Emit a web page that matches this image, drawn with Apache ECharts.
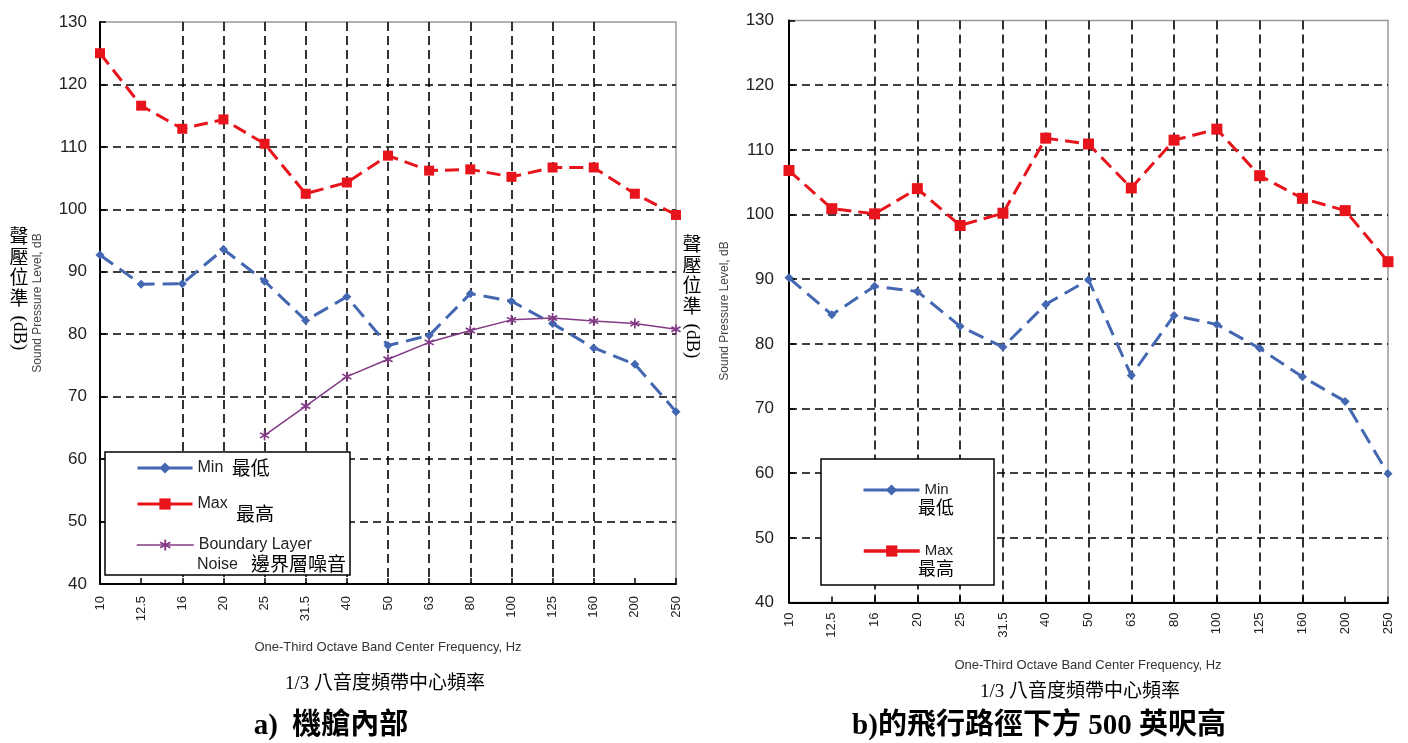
<!DOCTYPE html>
<html><head><meta charset="utf-8">
<script src="https://cdn.jsdelivr.net/npm/echarts@6/dist/echarts.min.js"></script>
<style>html,body{margin:0;padding:0;background:#fff}#c{width:1408px;height:743px}</style>
</head><body><div id="c"></div>
<script>
const categories = ['10','12.5','16','20','25','31.5','40','50','63','80','100','125','160','200','250'];
const yTicks = [40,50,60,70,80,90,100,110,120,130];
// a) cabin interior
const cabinMin = [92.7, 88.0, 88.1, 93.6, 88.5, 82.2, 86.0, 78.2, 79.8, 86.5, 85.3, 81.7, 77.8, 75.2, 67.6];
const cabinMax = [125.0, 116.6, 112.9, 114.4, 110.5, 102.5, 104.3, 108.6, 106.2, 106.4, 105.2, 106.7, 106.7, 102.5, 99.1];
const cabinBL  = [null, null, null, null, 63.8, 68.5, 73.2, 76.0, 78.7, 80.6, 82.3, 82.6, 82.1, 81.7, 80.8];
// b) 500 ft below flight path
const flightMin = [90.2, 84.5, 88.9, 88.1, 82.7, 79.5, 86.1, 89.9, 75.1, 84.4, 83.0, 79.3, 74.9, 71.1, 59.9];
const flightMax = [106.8, 100.9, 100.1, 104.0, 98.3, 100.2, 111.8, 110.9, 104.1, 111.5, 113.2, 106.0, 102.5, 100.6, 92.7];

const RED = '#e8141c', BLUE = '#4467b1', PURPLE = '#833a86';
const SANS = 'Liberation Sans, Arial, sans-serif';
const CJK = '"Liberation Serif", "Noto Sans CJK TC", serif';
const STAR = 'path://M-0.8,-5L0.8,-5L0.8,5L-0.8,5Z M-4.73,-1.81L-3.93,-3.19L4.73,1.81L3.93,3.19Z M3.93,-3.19L4.73,-1.81L-3.93,3.19L-4.73,1.81Z';

const yMin = yTicks[0], yMax = yTicks[yTicks.length - 1], yStep = yTicks[1] - yTicks[0];

function xAxisCfg(gi, margin) {
  return {
    type: 'category', gridIndex: gi, data: categories, boundaryGap: false,
    axisLine: { show: true, lineStyle: { color: '#000', width: 2 } },
    axisTick: { show: true, inside: true, length: 6, lineStyle: { color: '#000', width: 1.5 } },
    axisLabel: { rotate: 90, interval: 0, margin: margin, fontFamily: SANS, fontSize: 13, color: '#222' },
    splitLine: { show: true, showMinLine: false, showMaxLine: false,
      interval: (i) => i !== 0 && i !== categories.length - 1,
      lineStyle: { color: '#000', width: 1.6, type: [9, 5] } }
  };
}
function yAxisCfg(gi, margin) {
  return {
    type: 'value', gridIndex: gi, min: yMin, max: yMax, interval: yStep,
    axisLine: { show: true, lineStyle: { color: '#000', width: 2 } },
    axisTick: { show: true, inside: true, length: 6, lineStyle: { color: '#000', width: 1.5 } },
    axisLabel: { margin: margin, fontFamily: SANS, fontSize: 17, color: '#222' },
    splitLine: { show: true, showMinLine: false, showMaxLine: false,
      lineStyle: { color: '#000', width: 1.6, type: [8, 5] } }
  };
}
function minSeries(name, gi, data) {
  return { name, type: 'line', xAxisIndex: gi, yAxisIndex: gi, data, symbol: 'diamond', symbolSize: 9,
    lineStyle: { color: BLUE, width: 3, type: [16, 8] }, itemStyle: { color: BLUE }, z: 3 };
}
function maxSeries(name, gi, data, size) {
  return { name, type: 'line', xAxisIndex: gi, yAxisIndex: gi, data, symbol: 'rect', symbolSize: size,
    lineStyle: { color: RED, width: 3, type: [14, 7] }, itemStyle: { color: RED }, z: 4 };
}

function legendCfg(name, left, top, itemWidth, text, fontSize, lineWidth, rich) {
  return { data: [name], left, top, orient: 'vertical', padding: 0, itemWidth, itemHeight: 14,
    selectedMode: false, formatter: () => text,
    lineStyle: { type: 'solid', width: lineWidth },
    textStyle: { fontFamily: SANS, fontSize: fontSize, color: '#222', lineHeight: 20, rich: rich || {} } };
}

const cjkText = (text, x, y, size, extra) => Object.assign({
  type: 'text', x, y, z: 10,
  style: Object.assign({ text, font: size + 'px ' + CJK, fill: '#000', align: 'left', verticalAlign: 'middle' }, extra || {})
});

const option = {
  animation: false,
  backgroundColor: '#fff',
  grid: [
    { left: 100, top: 22, width: 576, height: 562, show: true, borderColor: '#999', borderWidth: 1.5, backgroundColor: 'transparent' },
    { left: 789, top: 20.5, width: 599, height: 582, show: true, borderColor: '#999', borderWidth: 1.5, backgroundColor: 'transparent' }
  ],
  xAxis: [xAxisCfg(0, 12), xAxisCfg(1, 10)],
  yAxis: [yAxisCfg(0, 13), yAxisCfg(1, 15)],
  legend: [
    legendCfg('aMin', 136, 456, 55, '{en|Min} {cn|最低}', 16, 3, {
      en: { fontFamily: SANS, fontSize: 16, color: '#222', lineHeight: 20 },
      cn: { fontFamily: CJK, fontSize: 19, color: '#000', lineHeight: 20, padding: [5, 0, 0, 4] } }),
    legendCfg('aMax', 136, 494, 55, 'Max', 16, 3),
    legendCfg('aBL', 136, 535, 57, 'Boundary Layer', 16, 1.5),
    legendCfg('bMin', 862, 480, 56, 'Min', 15, 3),
    legendCfg('bMax', 862, 541, 56, 'Max', 15, 3.5)
  ],
  series: [
    minSeries('aMin', 0, cabinMin),
    maxSeries('aMax', 0, cabinMax, 10),
    { name: 'aBL', type: 'line', xAxisIndex: 0, yAxisIndex: 0, data: cabinBL, symbol: STAR, symbolSize: 10,
      lineStyle: { color: PURPLE, width: 1.5 }, itemStyle: { color: PURPLE }, z: 3 },
    minSeries('bMin', 1, flightMin),
    maxSeries('bMax', 1, flightMax, 11)
  ],
  graphic: [
    { type: 'rect', z: 3, shape: { x: 105, y: 452, width: 245, height: 123 }, style: { fill: '#fff', stroke: '#000', lineWidth: 1.5 } },
    { type: 'rect', z: 3, shape: { x: 821, y: 459, width: 173, height: 126 }, style: { fill: '#fff', stroke: '#000', lineWidth: 1.5 } },
    cjkText('最高', 236, 516, 19),
    { type: 'text', x: 197, y: 565, z: 10, style: { text: 'Noise', font: '16px ' + SANS, fill: '#222', verticalAlign: 'middle' } },
    cjkText('邊界層噪音', 251, 566, 19),
    cjkText('最低', 918, 509, 18),
    cjkText('最高', 918, 570, 18),
    // vertical Chinese y titles
    cjkText('聲\n壓\n位\n準', 19, 228, 19, { align: 'center', verticalAlign: 'top', lineHeight: 20.5 }),
    cjkText('(dB)', 19, 333, 19, { align: 'center' }),
    cjkText('聲\n壓\n位\n準', 692, 236, 19, { align: 'center', verticalAlign: 'top', lineHeight: 20.5 }),
    cjkText('(dB)', 692, 341, 19, { align: 'center' }),
    // english y titles
    { type: 'text', x: 38, y: 303, rotation: Math.PI / 2, z: 10, style: { text: 'Sound Pressure Level, dB', font: '12px ' + SANS, fill: '#444', align: 'center', verticalAlign: 'middle' } },
    { type: 'text', x: 725, y: 311, rotation: Math.PI / 2, z: 10, style: { text: 'Sound Pressure Level, dB', font: '12px ' + SANS, fill: '#444', align: 'center', verticalAlign: 'middle' } },
    // x titles
    { type: 'text', x: 388, y: 647, z: 10, style: { text: 'One-Third Octave Band Center Frequency, Hz', font: '13px ' + SANS, fill: '#333', align: 'center', verticalAlign: 'middle' } },
    { type: 'text', x: 1088, y: 665, z: 10, style: { text: 'One-Third Octave Band Center Frequency, Hz', font: '13px ' + SANS, fill: '#333', align: 'center', verticalAlign: 'middle' } },
    cjkText('1/3 八音度頻帶中心頻率', 385, 684, 19, { align: 'center' }),
    cjkText('1/3 八音度頻帶中心頻率', 1080, 692, 19, { align: 'center' }),
    cjkText('a)  機艙內部', 331, 727, 29, { align: 'center', font: 'bold 29px ' + CJK }),
    cjkText('b)的飛行路徑下方 500 英呎高', 1039, 727, 29, { align: 'center', font: 'bold 29px ' + CJK })
  ]
};
// rotate the (dB) parts so they read top-to-bottom
option.graphic[8].rotation = -Math.PI / 2;
option.graphic[10].rotation = -Math.PI / 2;

const chart = echarts.init(document.getElementById('c'), null, { renderer: 'canvas' });
chart.setOption(option);
</script>
</body></html>
